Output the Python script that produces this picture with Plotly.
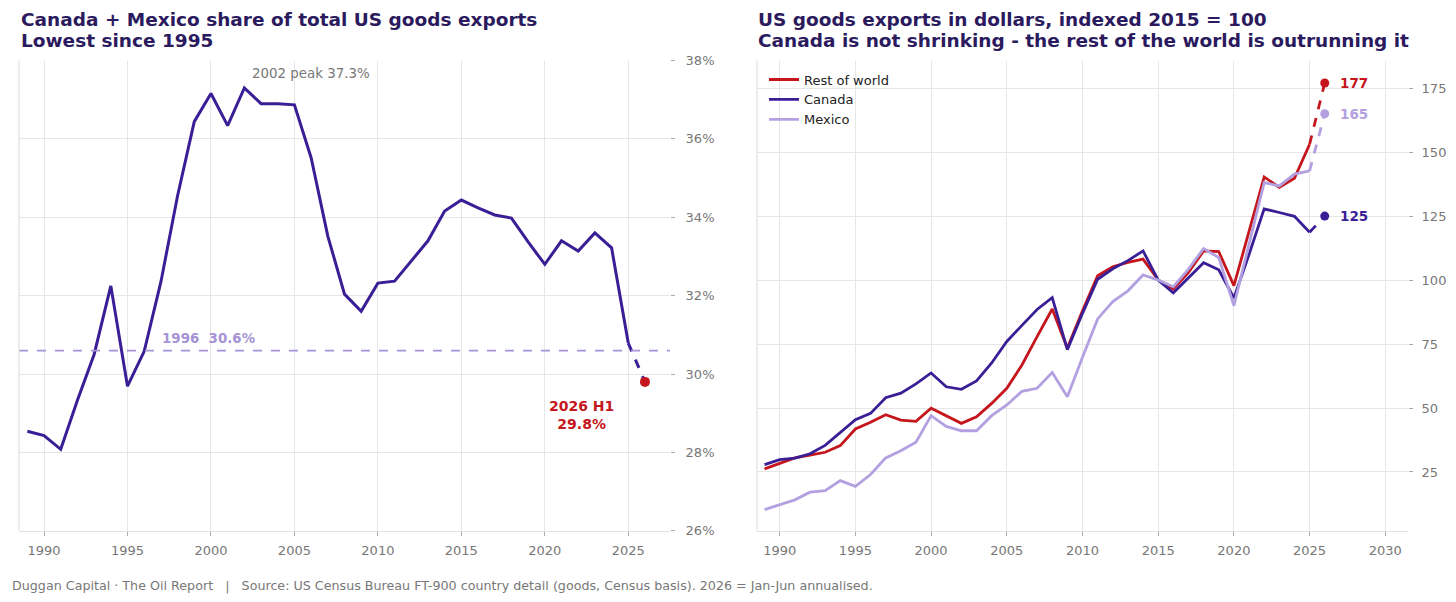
import plotly.graph_objects as go

# ---------------- data ----------------
share_years = list(range(1989, 2027))
share_pct = [28.54, 28.43, 28.08, 29.33, 30.5, 32.25, 29.69, 30.58, 32.35, 34.55,
             36.44, 37.16, 36.34, 37.3, 36.9, 36.9, 36.87, 35.52, 33.52, 32.04,
             31.6, 32.32, 32.37, 32.88, 33.4, 34.16, 34.44, 34.24, 34.06, 33.98,
             33.37, 32.8, 33.4, 33.14, 33.6, 33.22, 30.79, 29.8]

idx_years = list(range(1989, 2027))
rest_of_world = [26.2, 28.4, 30.5, 31.6, 32.7, 35.3, 41.8, 44.4, 47.4, 45.3,
                 44.8, 49.9, 47.0, 44.0, 46.6, 51.8, 57.7, 66.8, 77.9, 88.7,
                 73.4, 88.0, 101.7, 105.2, 106.9, 108.2, 100.0, 96.5, 103.0, 111.4,
                 111.1, 97.8, 119.0, 140.3, 136.2, 139.8, 153.1, 177.0]
canada = [27.9, 29.8, 30.4, 32.1, 35.4, 40.5, 45.4, 47.9, 54.0, 55.8,
          59.4, 63.7, 58.3, 57.3, 60.6, 67.6, 76.0, 82.3, 88.5, 93.1,
          72.8, 87.0, 100.3, 104.4, 107.6, 111.4, 100.0, 95.0, 101.0, 106.8,
          104.0, 93.0, 110.0, 127.8, 126.4, 124.9, 118.7, 125.0]
mexico = [10.3, 12.1, 14.1, 17.1, 17.7, 21.6, 19.4, 24.0, 30.5, 33.3,
          36.6, 47.0, 42.8, 41.1, 41.1, 47.0, 51.2, 56.5, 57.7, 63.9,
          54.4, 69.8, 84.8, 91.6, 95.8, 102.0, 100.0, 97.4, 104.3, 112.3,
          108.8, 90.0, 114.0, 138.1, 136.8, 141.4, 142.7, 165.0]

baseline_1996 = 30.6
peak_label = "2002 peak 37.3%"
share_ticks = [26, 28, 30, 32, 34, 36, 38]
share_tick_text = ["26%", "28%", "30%", "32%", "34%", "36%", "38%"]
idx_ticks = [25, 50, 75, 100, 125, 150, 175]
share_xticks = [1990, 1995, 2000, 2005, 2010, 2015, 2020, 2025]
idx_xticks = [1990, 1995, 2000, 2005, 2010, 2015, 2020, 2025, 2030]

left_title = ["Canada + Mexico share of total US goods exports", "Lowest since 1995"]
right_title = ["US goods exports in dollars, indexed 2015 = 100",
               "Canada is not shrinking - the rest of the world is outrunning it"]
footer = ("Duggan Capital · The Oil Report   |   Source: US Census Bureau FT-900 country "
          "detail (goods, Census basis). 2026 = Jan-Jun annualised.")

# ---------------- style ----------------
DARK = "#3a1e96"
RED = "#c4161c"
LAV = "#b3a0e0"
LAV_LINE = "#a693d6"
TITLE = "#2b1a5e"
GREY = "#777777"
GRID = "#e6e6e6"
FONT = "DejaVu Sans"
W, H = 1456, 602
Y_OFF, Y_SCALE = 6.5, 0.9745   # observed vertical mapping of the capture


def px(xp):
    return xp / W


def py(yp):
    return 1 - ((yp - Y_OFF) / Y_SCALE) / H


fig = go.Figure()

# ---- left panel ----
n = len(share_years)
fig.add_trace(go.Scatter(x=share_years[:n - 1], y=share_pct[:n - 1], mode="lines",
                         line=dict(color=DARK, width=3), showlegend=False,
                         xaxis="x", yaxis="y"))
fig.add_trace(go.Scatter(x=share_years[n - 2:], y=share_pct[n - 2:], mode="lines",
                         line=dict(color=DARK, width=3, dash="dash"), showlegend=False,
                         xaxis="x", yaxis="y"))
fig.add_trace(go.Scatter(x=[share_years[-1]], y=[share_pct[-1]], mode="markers",
                         marker=dict(color=RED, size=10), showlegend=False,
                         xaxis="x", yaxis="y"))

# ---- right panel ----
series = [("Rest of world", rest_of_world, RED),
          ("Canada", canada, DARK),
          ("Mexico", mexico, LAV)]
m = len(idx_years)
for name, vals, col in series:
    fig.add_trace(go.Scatter(x=idx_years[:m - 1], y=vals[:m - 1], mode="lines", name=name,
                             line=dict(color=col, width=2.8), xaxis="x2", yaxis="y2"))
for name, vals, col in series:
    fig.add_trace(go.Scatter(x=idx_years[m - 2:], y=vals[m - 2:], mode="lines",
                             line=dict(color=col, width=2.8, dash="dash"), showlegend=False,
                             xaxis="x2", yaxis="y2"))
    fig.add_trace(go.Scatter(x=[idx_years[-1]], y=[vals[-1]], mode="markers",
                             marker=dict(color=col, size=9), showlegend=False,
                             xaxis="x2", yaxis="y2"))
    fig.add_annotation(x=2026.88, y=vals[-1], xref="x2", yref="y2",
                       text="<b>%d</b>" % round(vals[-1]), showarrow=False,
                       xanchor="left", yanchor="middle",
                       font=dict(family=FONT, size=13.5, color=col))

# ---- annotations left ----
fig.add_shape(type="line", xref="x domain", yref="y", x0=0, x1=1,
              y0=baseline_1996, y1=baseline_1996,
              line=dict(color=LAV_LINE, width=1.8, dash="dash"))
fig.add_annotation(x=1996.95, y=30.9, xref="x", yref="y", text="<b>1996  30.6%</b>",
                   showarrow=False, xanchor="left", yanchor="middle",
                   font=dict(family=FONT, size=13.4, color=LAV_LINE))
fig.add_annotation(x=2002.35, y=37.66, xref="x", yref="y", text=peak_label,
                   showarrow=False, xanchor="left", yanchor="middle",
                   font=dict(family=FONT, size=13.4, color=GREY))
fig.add_annotation(x=2022.2, y=28.95, xref="x", yref="y", text="<b>2026 H1<br>29.8%</b>",
                   showarrow=False, xanchor="center", yanchor="middle",
                   font=dict(family=FONT, size=14, color=RED))

# left spines for both panels
for xd, yd in [("x domain", "y domain"), ("x2 domain", "y2 domain")]:
    fig.add_shape(type="line", xref=xd, yref=yd, x0=0, x1=0, y0=0, y1=1,
                  line=dict(color="#e0e0e0", width=1.2))

# titles (one annotation per line)
for x0, lines in [(19, left_title), (756, right_title)]:
    for yy, txt in zip([19, 40], lines):
        fig.add_annotation(x=px(x0), y=py(yy), xref="paper", yref="paper",
                           text="<b>%s</b>" % txt, showarrow=False,
                           xanchor="left", yanchor="middle",
                           font=dict(family=FONT, size=18.5, color=TITLE))
fig.add_annotation(x=px(10), y=py(585), xref="paper", yref="paper", text=footer,
                   showarrow=False, xanchor="left", yanchor="middle",
                   font=dict(family=FONT, size=12.7, color=GREY))

axis_common = dict(showgrid=True, gridcolor=GRID, gridwidth=1, zeroline=False,
                   ticks="outside", ticklen=4, tickcolor="#aaaaaa",
                   tickfont=dict(family=FONT, size=13, color=GREY))

fig.update_layout(
    width=W, height=H,
    margin=dict(l=0, r=0, t=0, b=0, pad=0),
    paper_bgcolor="white", plot_bgcolor="white",
    font=dict(family=FONT),
    xaxis=dict(domain=[px(19), px(670)], range=[1988.5, 2027.5], anchor="y",
               tickmode="array", tickvals=share_xticks, showline=True, linecolor="#e0e0e0",
               linewidth=1.2, ticklabelstandoff=3, **axis_common),
    yaxis=dict(domain=[py(530), py(60)], range=[26, 38], anchor="x", side="right",
               tickmode="array", tickvals=share_ticks, ticktext=share_tick_text,
               showline=False, ticklabelstandoff=8, **axis_common),
    xaxis2=dict(domain=[px(757), px(1408)], range=[1988.5, 2031.5], anchor="y2",
                tickmode="array", tickvals=idx_xticks, showline=True, linecolor="#e0e0e0",
                linewidth=1.2, ticklabelstandoff=3, **axis_common),
    yaxis2=dict(domain=[py(530), py(60)], range=[2.0, 185.8], anchor="x2", side="right",
                tickmode="array", tickvals=idx_ticks, showline=False,
                ticklabelstandoff=6, **axis_common),
    legend=dict(x=px(764), y=py(64), xanchor="left", yanchor="top",
                bgcolor="rgba(0,0,0,0)", font=dict(family=FONT, size=13, color="#222222"),
                tracegroupgap=0),
    showlegend=True,
)

post = ("document.documentElement.style.margin='0';"
        "document.documentElement.style.overflow='hidden';"
        "document.body.style.margin='0';document.body.style.padding='0';"
        "document.body.style.overflow='hidden';"
        "var gd=document.getElementsByClassName('plotly-graph-div')[0];"
        "gd.style.position='fixed';gd.style.top='0px';gd.style.left='0px';")

fig.write_html("out.html", config={"displayModeBar": False}, post_script=post)
